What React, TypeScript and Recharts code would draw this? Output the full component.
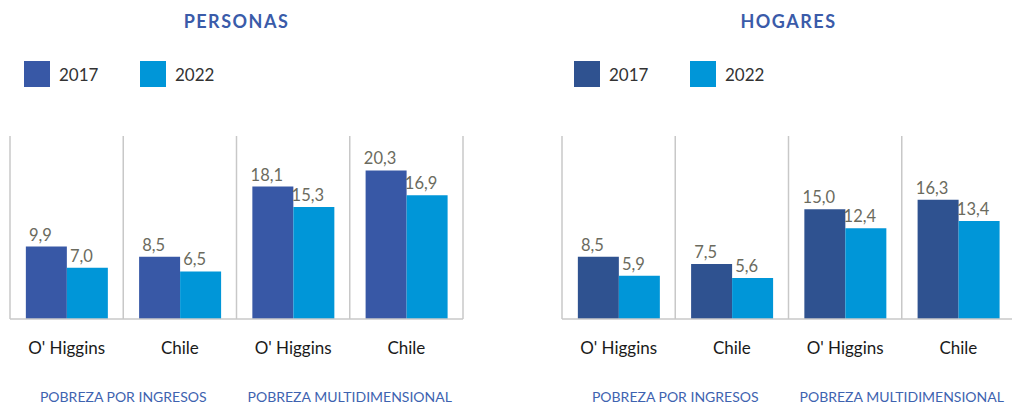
import { BarChart, Bar, XAxis, YAxis, CartesianGrid, LabelList, Legend } from "recharts"

const categories = ["O' Higgins", "Chile", "O' Higgins", "Chile"]
const groups = ["POBREZA POR INGRESOS", "POBREZA MULTIDIMENSIONAL"]
const years = ["2017", "2022"]

const personas2017 = [9.9, 8.5, 18.1, 20.3]
const personas2022 = [7.0, 6.5, 15.3, 16.9]
const hogares2017 = [8.5, 7.5, 15.0, 16.3]
const hogares2022 = [5.9, 5.6, 12.4, 13.4]

const BLUE_2022 = "#0096d8"
const GRID = "#c8c8c8"
const FONT = "Lato, 'Open Sans', sans-serif"

const toRows = (a: number[], b: number[]) =>
  categories.map((name, i) => ({ name, y2017: a[i], y2022: b[i] }))

const fmt = (v: any) => Number(v).toFixed(1).replace(".", ",")

// vertical separators on the category boundaries
const boundaries = ({ offset }: any) =>
  [0, 1, 2, 3, 4].map((i) => offset.left + (i * offset.width) / 4)

function Panel({ title, left, plotLeft, data, color2017 }: any) {
  const colors = [color2017, BLUE_2022]
  return (
    <div style={{ position: "absolute", left, top: 0, width: 470, height: 404 }}>
      <BarChart
        width={470}
        height={404}
        data={data}
        margin={{ top: 136, right: 470 - plotLeft - 453, bottom: 55, left: plotLeft }}
        barCategoryGap="14%"
        barGap={0}
      >
        <CartesianGrid horizontal={false} stroke={GRID} strokeWidth={1.5} verticalCoordinatesGenerator={boundaries} />
        <XAxis
          dataKey="name"
          height={30}
          tickLine={false}
          axisLine={{ stroke: GRID, strokeWidth: 1.5 }}
          tick={{ fill: "#1a1a1a", fontSize: 17, fontFamily: FONT }}
          tickMargin={17}
          interval={0}
        />
        <YAxis hide domain={[0, 25]} />
        <Legend
          verticalAlign="top"
          content={() => (
            <div style={{ position: "absolute", top: 61, left: 24 - plotLeft, display: "flex", fontFamily: FONT }}>
              {years.map((y, i) => (
                <div key={y} style={{ display: "flex", alignItems: "center", width: 116 }}>
                  <span style={{ width: 26, height: 26, background: colors[i], display: "inline-block" }} />
                  <span style={{ marginLeft: 9, fontSize: 17, color: "#333" }}>{y}</span>
                </div>
              ))}
            </div>
          )}
          wrapperStyle={{ top: 0, left: plotLeft, width: 400 }}
        />
        <Bar dataKey="y2017" fill={color2017} isAnimationActive={false}>
          <LabelList dataKey="y2017" position="top" offset={6} formatter={fmt} fill="#6b6b5e" fontSize={16.5} fontFamily={FONT} dx={-6} />
        </Bar>
        <Bar dataKey="y2022" fill={BLUE_2022} isAnimationActive={false}>
          <LabelList dataKey="y2022" position="top" offset={6} formatter={fmt} fill="#6b6b5e" fontSize={16.5} fontFamily={FONT} dx={-6} />
        </Bar>
      </BarChart>
      <span
        style={{
          position: "absolute", top: 10, left: plotLeft + 453 / 2, transform: "translateX(-50%)", whiteSpace: "nowrap",
          fontFamily: FONT, fontWeight: 700, fontSize: 18, letterSpacing: 1.5, color: "#3a5ba9",
        }}
      >
        {title}
      </span>
      {groups.map((g, i) => (
        <div
          key={g}
          style={{
            position: "absolute", top: 388, left: plotLeft + (453 / 4) * (1 + 2 * i),
            transform: "translateX(-50%)", whiteSpace: "nowrap",
            fontFamily: FONT, fontSize: 14, color: "#3e63b0",
          }}
        >
          {g}
        </div>
      ))}
    </div>
  )
}

export default function App() {
  return (
    <div style={{ position: "absolute", left: 0, top: 0, width: 1012, height: 404, overflow: "hidden", background: "#fff" }}>
      <Panel title="PERSONAS" left={0} plotLeft={10} data={toRows(personas2017, personas2022)} color2017="#3858a6" />
      <Panel title="HOGARES" left={550} plotLeft={12} data={toRows(hogares2017, hogares2022)} color2017="#2f5290" />
    </div>
  )
}
